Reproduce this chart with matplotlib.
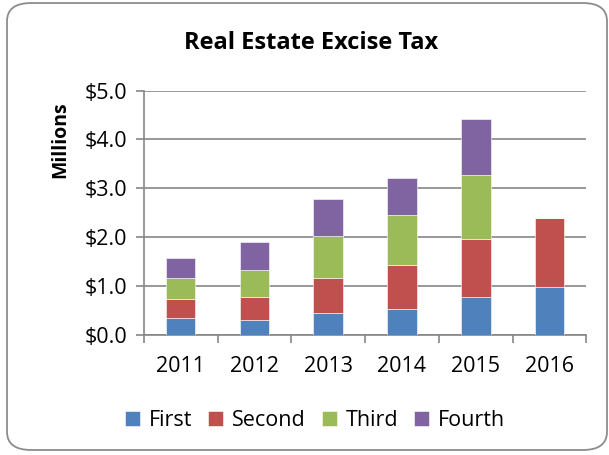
import matplotlib.pyplot as plt
from matplotlib.patches import FancyBboxPatch
import numpy as np

plt.rcParams['font.family'] = ['Open Sans', 'DejaVu Sans']

years = ['2011', '2012', '2013', '2014', '2015', '2016']
quarters = ['First', 'Second', 'Third', 'Fourth']
first = [0.35, 0.30, 0.44, 0.53, 0.78, 0.98]
second = [0.39, 0.48, 0.73, 0.89, 1.19, 1.41]
third = [0.43, 0.55, 0.85, 1.03, 1.30, 0.0]
fourth = [0.40, 0.57, 0.76, 0.77, 1.14, 0.0]
colors = ['#4f81bd', '#c0504d', '#9bbb59', '#8064a2']

fig = plt.figure(figsize=(6.09, 4.55), dpi=100)

# rounded chart border
border = FancyBboxPatch((7 / 609, 5 / 455), 600 / 609, 447 / 455,
                        boxstyle='round,pad=0,rounding_size=0.04',
                        transform=fig.transFigure, facecolor='none',
                        edgecolor='#8c8c8c', linewidth=1.3, zorder=-1)
fig.patches.append(border)

ax = fig.add_axes([0.236, 0.264, 0.727, 0.537])
ax.set_facecolor('none')

x = np.arange(len(years))
bottom = np.zeros(len(years))
for name, vals, c in zip(quarters, [first, second, third, fourth], colors):
    ax.bar(x, vals, width=0.4, bottom=bottom, color=c, label=name,
           edgecolor='white', linewidth=0.4, zorder=3)
    bottom += np.array(vals)

ax.set_xlim(-0.5, len(years) - 0.5)
ax.set_ylim(0, 5)
ax.set_yticks(np.arange(0, 5.1, 1.0))
ax.set_yticklabels(['${:.1f}'.format(v) for v in np.arange(0, 5.1, 1.0)])
ax.set_xticks(x)
ax.set_xticklabels(years)
ax.set_xticks(np.arange(-0.5, len(years), 1.0), minor=True)
ax.tick_params(axis='x', which='major', length=0, pad=15, labelsize=15.5)
ax.tick_params(axis='x', which='minor', length=6, color='#868686', width=1.2)
ax.tick_params(axis='y', length=6, color='#868686', width=1.2, labelsize=15.5, pad=6)
ax.grid(axis='y', color='#868686', linewidth=1.2, zorder=0)

for s in ['top', 'right']:
    ax.spines[s].set_visible(False)
for s in ['left', 'bottom']:
    ax.spines[s].set_color('#868686')
    ax.spines[s].set_linewidth(1.2)

fig.text(60 / 609, 0.692, 'Millions', rotation=90, ha='center', va='center',
         fontsize=14, fontweight='bold')
fig.text(0.511, 0.905, 'Real Estate Excise Tax', ha='center', va='center',
         fontsize=17, fontweight='bold')

fig.legend(loc='center', bbox_to_anchor=(0.517, 0.075), ncol=4, frameon=False,
           fontsize=15.5, handlelength=0.7, handleheight=0.7, handletextpad=0.4,
           columnspacing=0.75)

fig.savefig('out.png', dpi=100)
